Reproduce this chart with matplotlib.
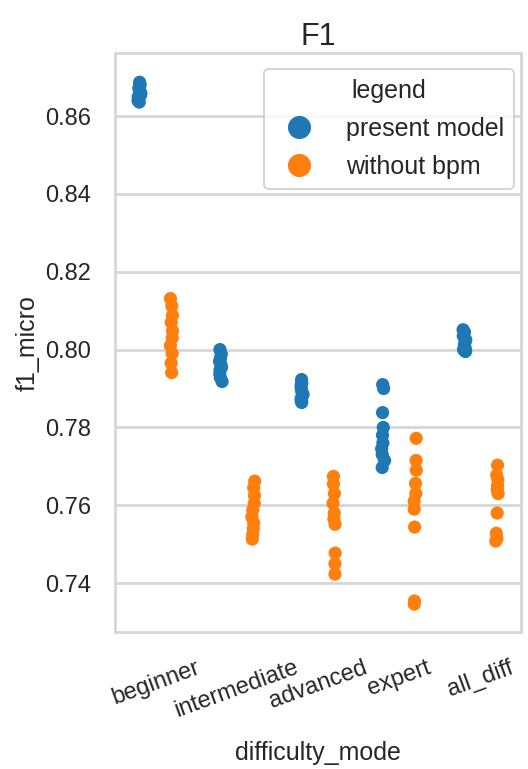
import numpy as np
import pandas as pd
import seaborn as sns
from matplotlib import pyplot as plt

# f1_micro per run, one list per difficulty / model
modes = ["beginner", "intermediate", "advanced", "expert", "all_diff"]
models = ["present model", "without bpm"]

present_beginner = [0.8687, 0.8680, 0.8672, 0.8665, 0.8660, 0.8655, 0.8650, 0.8645, 0.8640, 0.8636]
present_intermediate = [0.8000, 0.7988, 0.7978, 0.7970, 0.7962, 0.7955, 0.7948, 0.7938, 0.7928, 0.7918]
present_advanced = [0.7923, 0.7915, 0.7908, 0.7900, 0.7893, 0.7885, 0.7880, 0.7874, 0.7868, 0.7864]
present_expert = [0.7910, 0.7900, 0.7838, 0.7800, 0.7780, 0.7760, 0.7745, 0.7730, 0.7715, 0.7697]
present_all = [0.8051, 0.8045, 0.8035, 0.8025, 0.8018, 0.8010, 0.8005, 0.8000, 0.7998, 0.7995]

nobpm_beginner = [0.8131, 0.8112, 0.8088, 0.8070, 0.8048, 0.8030, 0.8010, 0.7990, 0.7965, 0.7941]
nobpm_intermediate = [0.7662, 0.7645, 0.7625, 0.7605, 0.7588, 0.7570, 0.7555, 0.7540, 0.7525, 0.7513]
nobpm_advanced = [0.7674, 0.7655, 0.7630, 0.7605, 0.7580, 0.7565, 0.7551, 0.7477, 0.7450, 0.7423]
nobpm_expert = [0.7772, 0.7715, 0.7690, 0.7656, 0.7630, 0.7610, 0.7590, 0.7544, 0.7354, 0.7346]
nobpm_all = [0.7703, 0.7677, 0.7665, 0.7650, 0.7640, 0.7630, 0.7580, 0.7528, 0.7515, 0.7508]


def main():
    present = [present_beginner, present_intermediate, present_advanced, present_expert, present_all]
    nobpm = [nobpm_beginner, nobpm_intermediate, nobpm_advanced, nobpm_expert, nobpm_all]

    rows = []
    for model, groups in zip(models, [present, nobpm]):
        for mode, vals in zip(modes, groups):
            for v in vals:
                rows.append({"difficulty_mode": mode, "f1_micro": v, "legend": model})
    df = pd.DataFrame(rows)

    sns.set_style("whitegrid", {"grid.color": ".84", "axes.edgecolor": ".84"})
    plt.rcParams["font.family"] = ["Liberation Sans", "DejaVu Sans"]
    plt.rcParams["grid.linewidth"] = 2.0
    plt.rcParams["axes.linewidth"] = 2.0

    np.random.seed(3)
    fig = plt.figure(figsize=(5.28, 7.69), dpi=100)
    ax = fig.add_axes([0.218, 0.178, 0.769, 0.753])
    sns.stripplot(data=df, x="difficulty_mode", y="f1_micro", hue="legend",
                  order=modes, hue_order=models, dodge=True, jitter=0.04,
                  size=9.5, palette=["#1f77b4", "#ff7f0e"], ax=ax)

    ax.set_ylim(0.7274, 0.8762)
    ax.set_yticks([0.74, 0.76, 0.78, 0.80, 0.82, 0.84, 0.86])
    ax.set_yticklabels(["0.74", "0.76", "0.78", "0.80", "0.82", "0.84", "0.86"])
    ax.tick_params(axis="y", labelsize=17, pad=14)
    ax.tick_params(axis="x", labelsize=17, pad=14)
    for lab in ax.get_xticklabels():
        lab.set_rotation(20)
        lab.set_ha("center")
    ax.set_title("F1", fontsize=22, pad=6)
    ax.set_xlabel("difficulty_mode", fontsize=18, labelpad=14)
    ax.set_ylabel("f1_micro", fontsize=18, labelpad=4)
    ax.yaxis.set_label_coords(-0.185, 0.5)

    handles, labels = ax.get_legend_handles_labels()
    leg = ax.legend(handles, labels, title="legend", loc="upper right",
                    bbox_to_anchor=(0.983, 0.972), borderaxespad=0,
                    fontsize=18, title_fontsize=18, markerscale=1.75,
                    labelspacing=0.55, handletextpad=0.9, borderpad=0.4)
    leg.get_frame().set_linewidth(1.5)

    fig.savefig("out.png", dpi=100)


if __name__ == '__main__':
    main()
